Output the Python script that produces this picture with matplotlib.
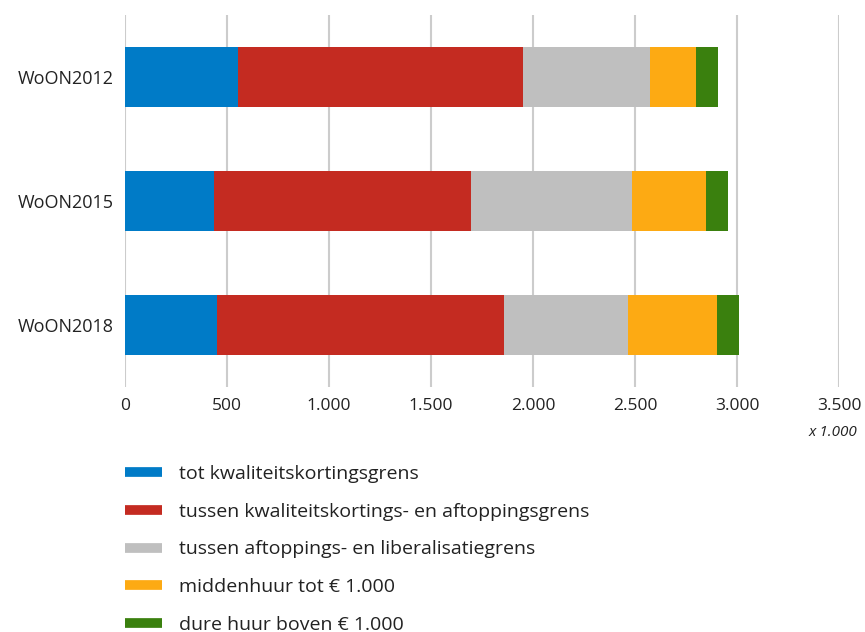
import matplotlib.pyplot as plt
from matplotlib.lines import Line2D
from matplotlib.ticker import FuncFormatter
import numpy as np

plt.rcParams['font.family'] = ['Open Sans', 'DejaVu Sans']

# data (x 1.000 woningen)
years = ['WoON2012', 'WoON2015', 'WoON2018']
tot_kwal = [553, 435, 452]
kwal_aftop = [1400, 1263, 1408]
aftop_lib = [619, 786, 604]
middenhuur = [226, 363, 437]
dure_huur = [108, 108, 108]

series = [tot_kwal, kwal_aftop, aftop_lib, middenhuur, dure_huur]
labels = ['tot kwaliteitskortingsgrens',
          'tussen kwaliteitskortings- en aftoppingsgrens',
          'tussen aftoppings- en liberalisatiegrens',
          'middenhuur tot € 1.000',
          'dure huur boven € 1.000']
colors = ['#007bc7', '#c42b21', '#bfbfbf', '#fdaa13', '#3a800e']
xticks = [0, 500, 1000, 1500, 2000, 2500, 3000, 3500]

fig = plt.figure(figsize=(8.65, 6.32), dpi=100)
ax = fig.add_axes([0.1445, 0.3877, 0.8255, 0.5886])

y = np.arange(len(years))
left = np.zeros(len(years))
for vals, c in zip(series, colors):
    ax.barh(y, vals, left=left, height=0.484, color=c, zorder=3)
    left += np.array(vals)

ax.set_ylim(2.5, -0.5)
ax.set_xlim(0, 3500)
ax.set_xticks(xticks)
ax.xaxis.set_major_formatter(FuncFormatter(lambda v, p: f'{int(v):,}'.replace(',', '.')))
ax.set_yticks(y)
ax.set_yticklabels(years)
ax.grid(axis='x', color='#cccccc', linewidth=1.5, zorder=0)
for s in ax.spines.values():
    s.set_visible(False)
ax.tick_params(axis='both', length=0, labelsize=12.5, colors='#222222')
ax.tick_params(axis='y', labelsize=13, pad=8)
ax.tick_params(axis='x', pad=8)

fig.text(0.991, 0.316, 'x 1.000', ha='right', va='center', fontsize=11,
         style='italic', color='#222222')

handles = [Line2D([0], [0], color=c, lw=7, solid_capstyle='butt') for c in colors]
fig.legend(handles, labels, loc='upper left', bbox_to_anchor=(0.124, 0.2915),
           frameon=False, fontsize=14, handlelength=1.9, handletextpad=0.875,
           labelspacing=1.007, labelcolor='#222222')

plt.savefig('out.png', dpi=100)
